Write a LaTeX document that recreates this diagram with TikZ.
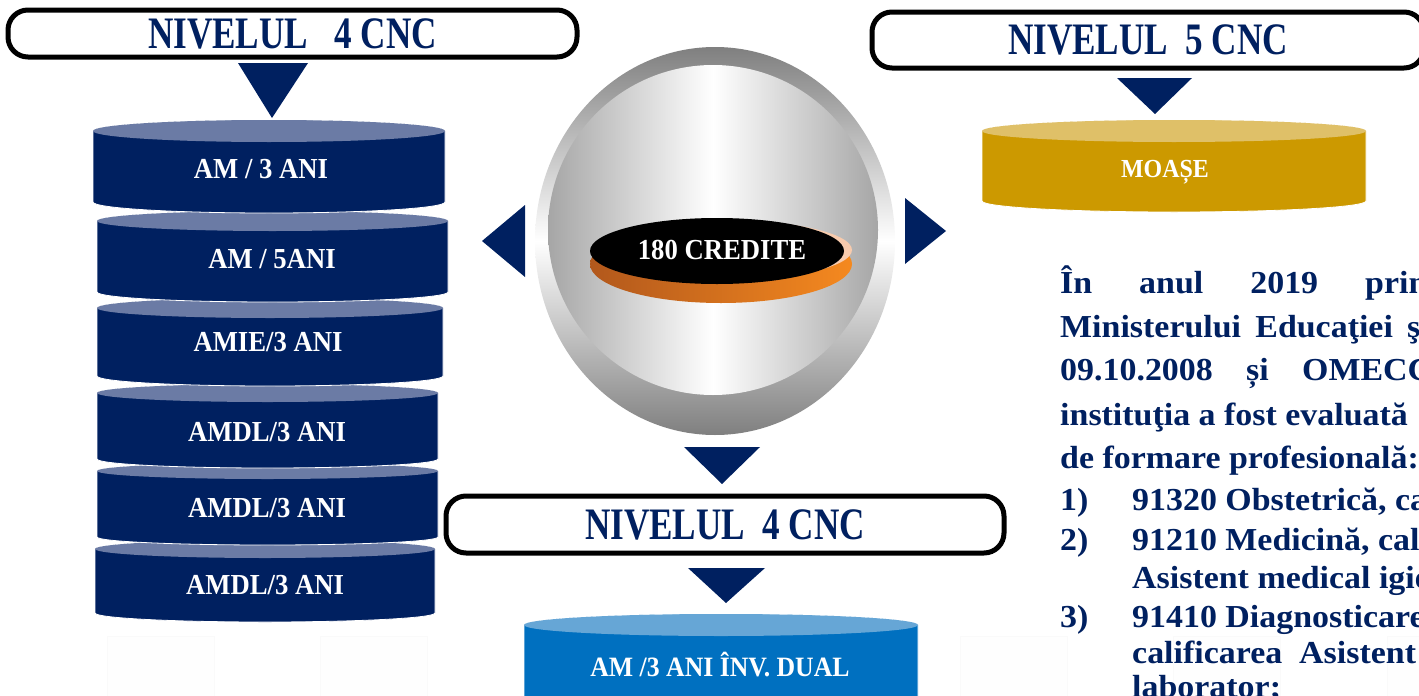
\documentclass[tikz,border=0pt]{standalone}
\usepackage{fontspec}
\setmainfont{Liberation Serif}
\newfontfamily\headfont[FakeStretch=0.78]{Liberation Serif}
\newfontfamily\drumfont[FakeStretch=0.92]{Liberation Serif}
\newfontfamily\parafont[FakeStretch=1.06]{Liberation Serif}
\usepackage{tikz}

\definecolor{navy}{RGB}{0,32,96}
\definecolor{navytop}{RGB}{107,123,165}
\definecolor{goldbody}{RGB}{204,153,0}
\definecolor{goldtop}{RGB}{223,192,104}
\definecolor{dualbody}{RGB}{0,112,192}
\definecolor{dualtop}{RGB}{102,166,214}
\definecolor{rimdark}{RGB}{178,88,28}
\definecolor{rimlight}{RGB}{245,137,31}
\definecolor{peach}{RGB}{248,203,173}

% drum: xl, xr, ry, ytop, ybottom, body colour, lid colour
\newcommand{\drum}[7]{%
	\path[fill=#6, draw=white, line width=0.8pt] (#1,#4) -- (#1,#5)
		arc[start angle=180, end angle=0, x radius={(#2-#1)/2}, y radius=#3] -- (#2,#4)
		arc[start angle=0, end angle=-180, x radius={(#2-#1)/2}, y radius=#3] -- cycle;
	\fill[#7] ({(#1+#2)/2},#4) ellipse [x radius={(#2-#1)/2}, y radius=#3];}

\begin{document}
\begin{tikzpicture}[
				x = 1pt, y = -1pt,
				every node/.style = {inner sep = 0pt, font = \bfseries},
				nivel/.style = {draw = black, line width = 5pt, rounded corners = 20pt, fill = white, text = navy, font = \headfont\bfseries\fontsize{45}{45}\selectfont},
				drumtext/.style = {text = white, font = \drumfont\bfseries\fontsize{29}{29}\selectfont},
				para/.style = {anchor = base west, text = navy, font = \parafont\bfseries\fontsize{32}{32}\selectfont},
				pointer/.style = {fill = navy}
				]
				\useasboundingbox (0,0) rectangle (1419,696);
				\clip (0,0) rectangle (1419,696);
				
				% faint boxes along the bottom
				\foreach \k in {0,...,6}
					\draw[gray!4, fill = gray!1] ({107+213.3*\k},636) rectangle +(107,70);
				
				% sphere
				\shade[top color = gray, bottom color = gray, middle color = white] (715,241) ellipse [x radius = 180, y radius = 194];
				\shade[left color = black!35, right color = black!35, middle color = white] (713,230) circle [radius = 165];
				\shade[left color = rimdark, right color = rimlight] (721,264) ellipse [x radius = 131, y radius = 39];
				\fill[peach] (723,250) ellipse [x radius = 129, y radius = 30];
				\fill[black] (717,251) ellipse [x radius = 127, y radius = 33];
				\node[drumtext] (credite) at (722,250) {180 CREDITE};
				
				% pointers
				\fill[pointer] (238,63) -- (308,63) -- (272,118) -- cycle;
				\fill[pointer] (1117,78) -- (1192,78) -- (1155,114) -- cycle;
				\fill[pointer] (525,205) -- (482,241) -- (525,277) -- cycle;
				\fill[pointer] (905,198) -- (946,231) -- (905,264) -- cycle;
				\fill[pointer] (684,447) -- (760,447) -- (722,484) -- cycle;
				\fill[pointer] (688,568) -- (765,568) -- (726,603) -- cycle;
				
				% stack of level 4 programmes
				\foreach \n/\xl/\xr/\ry/\yt/\yb/\tx/\ty/\txt in {
						amdlC/95/435/9/549/613/265/585/{AMDL/3 ANI},
						amdlB/97/438/8/471/537/267/508/{AMDL/3 ANI},
						amdlA/97/438/9/393/459/267/432/{AMDL/3 ANI},
						amie/97/443/10/308/376/268/342/{AMIE/3 ANI},
						amcinci/97/448/10/221/292/272/259/{AM / 5ANI},
						amtrei/93/445/11/131/202/261/169/{AM / 3 ANI}}
				{
					\drum{\xl}{\xr}{\ry}{\yt}{\yb}{navy}{navytop}
					\node[drumtext] (\n) at (\tx,\ty) {\txt};
				}
				
				% level 5
				\drum{982}{1366}{11}{131}{201}{goldbody}{goldtop}
				\node[drumtext, font = \drumfont\bfseries\fontsize{26}{26}\selectfont] (moase) at (1165,172) {MOAȘE};
				
				% dual
				\drum{524}{918}{11}{625}{720}{dualbody}{dualtop}
				\node[drumtext, font = \drumfont\bfseries\fontsize{28}{28}\selectfont] (dual) at (720,665) {AM /3 ANI ÎNV. DUAL};
				
				% headings
				\node[nivel, minimum width = 569pt, minimum height = 47pt] (nivA) at (292.5,33.5) {NIVELUL\ \ \ 4 CNC};
				\node[nivel, minimum width = 552pt, minimum height = 56pt] (nivB) at (1148,40) {NIVELUL\ \ 5 CNC};
				\node[nivel, minimum width = 558pt, minimum height = 57pt] (nivC) at (725,524.5) {NIVELUL\ \ 4 CNC};
				
				% text on the right
				\node[para] (p1) at (1060,293) {\makebox[305pt][s]{În\hfill anul\hfill 2019\hfill}prin};
				\node[para] (p2) at (1060,337) {\makebox[347pt][s]{Ministerului\hfill Educaţiei\hfill}şi};
				\node[para] (p3) at (1060,380) {\makebox[242pt][s]{09.10.2008\hfill și\hfill}OMECC};
				\node[para] (p4) at (1060,425) {instituţia a fost evaluată};
				\node[para] (p5) at (1060,468) {de formare profesională:};
				\node[para] (p6) at (1060,510) {\makebox[72pt][l]{1)}91320 Obstetrică, calificarea};
				\node[para] (p7) at (1060,550) {\makebox[72pt][l]{2)}91210 Medicină, calificarea};
				\node[para] (p8) at (1132,588) {Asistent medical igienă};
				\node[para] (p9) at (1060,627) {\makebox[72pt][l]{3)}91410 Diagnosticare,};
				\node[para] (p10) at (1132,663) {calificarea\ \ Asistent};
				\node[para] (p11) at (1132,697) {laborator;};
			\end{tikzpicture}
\end{document}
